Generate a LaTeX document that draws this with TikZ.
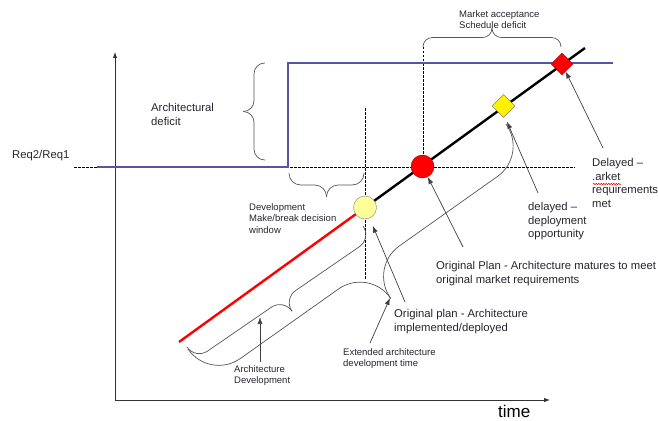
\documentclass[tikz,border=0pt]{standalone}
\usepackage{fontspec}
\setmainfont{Liberation Sans}
\usetikzlibrary{arrows.meta,shapes.geometric,decorations.pathmorphing}

\definecolor{azulreq}{RGB}{84,84,168}
\definecolor{amarilloclaro}{RGB}{255,255,153}
\definecolor{grisllave}{RGB}{85,85,85}
\definecolor{textoosc}{RGB}{40,35,45}

\tikzset{
  texto grande/.style={anchor=north west, inner sep=0pt, align=left, text=textoosc,
    font=\fontsize{11.3}{13.8}\selectfont},
  texto chico/.style={anchor=north west, inner sep=0pt, align=left, text=textoosc,
    font=\fontsize{9.5}{11.5}\selectfont},
  flecha/.style={draw=black!75, line width=0.7pt, -{Latex[length=7pt,width=5pt]}},
  eje/.style={draw=black!80, line width=0.9pt, -{Latex[length=6pt,width=4.5pt]}},
  guia/.style={dashed, line width=0.6pt, dash pattern=on 2.5pt off 1.5pt},
  trazo llave/.style={draw=grisllave, line width=0.7pt},
  pics/llave/.style n args={2}{code={
    \draw[trazo llave, rounded corners=#2*0.49pt] (0pt,0pt) -- (0pt,{-#2*0.5pt})
      -- ({#1*0.5pt},{-#2*0.5pt}) -- ({#1*0.5pt},{-#2*1pt});
    \draw[trazo llave, rounded corners=#2*0.49pt] ({#1*1pt},0pt) -- ({#1*1pt},{-#2*0.5pt})
      -- ({#1*0.5pt},{-#2*0.5pt}) -- ({#1*0.5pt},{-#2*1pt});
  }}
}

\begin{document}
\begin{tikzpicture}[x=1pt, y=-1pt]

    \useasboundingbox (0,0) rectangle (658,420);

    % Ejes
    \draw[eje] (115,400) -- (115,52);
    \draw[eje] (115,400) -- (550,400);
    \node[anchor=base west, inner sep=0pt, font=\fontsize{17}{20}\selectfont] (tiempo) at (498,417) {time};

    % Lineas guia
    \draw[guia] (74,167) -- (575,167);
    \draw[guia] (365,108) -- (365,280);
    \draw[guia] (423,47) -- (423,156);

    % Requisitos
    \draw[azulreq, line width=2pt] (97,167) -- (288,167) -- (288,63) -- (613,63);

    % Arquitectura
    \coordinate (inicio) at (179,342);
    \coordinate (pc) at (365,207.5);
    \coordinate (fin) at (585,48);
    \draw[red, line width=2.4pt] (inicio) -- (pc);
    \draw[black, line width=2.4pt] (pc) -- (fin);

    % Llaves
    \pic[rotate=-90] at (265,63) {llave={97}{22}};
    \pic[rotate=180] at (561,47) {llave={138}{19}};
    \pic at (289,173) {llave={75}{24}};
    \pic[rotate=34.5] at (187,347) {llave={213.6}{30}};
    \pic[rotate=35.3] at (188,349) {llave={389.5}{76}};
    \coordinate (puntaext) at (390,298);
    \coordinate (cuerpoarq) at (260,317);

    % Puntos
    \node[circle, fill=amarilloclaro, draw=black!50, minimum size=23pt, inner sep=0pt] (ycirc) at (pc) {};
    \node[circle, fill=red, draw=red!60!black, minimum size=23pt, inner sep=0pt] (rcirc) at (422.5,166.5) {};
    \node[diamond, fill=yellow, draw=black!60, minimum size=23pt, inner sep=0pt] (ydiam) at (503.5,106) {};
    \node[diamond, fill=red, draw=red!60!black, minimum size=22pt, inner sep=0pt] (rdiam) at (562,64) {};

    % Etiquetas
    \node[texto grande] (req) at (12,150) {Req2/Req1};
    \node[texto grande] (deficit) at (151,103) {Architectural\\deficit};
    \node[texto chico] (mercado) at (459,10) {Market acceptance\\Schedule deficit};
    \node[texto chico] (ventana) at (249,203) {Development\\Make/break decision\\window};
    \node[texto grande] (delayed) at (592,158) {Delayed –\\.arket\\requirements\\met};
    \node[texto grande] (delaydep) at (528,202) {delayed –\\deployment\\opportunity};
    \node[texto grande] (origmat) at (436,261) {Original Plan - Architecture matures to meet\\original market requirements};
    \node[texto grande] (origimpl) at (394,309) {Original plan - Architecture\\implemented/deployed};
    \node[texto chico] (extended) at (343,348) {Extended architecture\\development time};
    \node[texto chico] (archdev) at (234,365) {Architecture\\Development};
    \draw[red, line width=0.5pt, decorate, decoration={snake, amplitude=0.8pt, segment length=2.5pt}] (593,184) -- (621,184);

    % Flechas
    \draw[flecha] ([xshift=11pt,yshift=10pt]delayed.north west) -- (rdiam);
    \draw[flecha] ([xshift=10pt,yshift=9pt]delaydep.north west) -- ([xshift=3.5pt,yshift=-4pt]ydiam.south);
    \draw[flecha] ([xshift=27pt,yshift=14pt]origmat.north west) -- (rcirc);
    \draw[flecha, shorten >=8pt] ([xshift=11pt,yshift=7pt]origimpl.north west) -- (ycirc);
    \draw[flecha] ([xshift=27pt,yshift=5pt]extended.north west) -- (puntaext);
    \draw[flecha] ([xshift=26pt,yshift=3pt]archdev.north west) -- (cuerpoarq);

\end{tikzpicture}
\end{document}
